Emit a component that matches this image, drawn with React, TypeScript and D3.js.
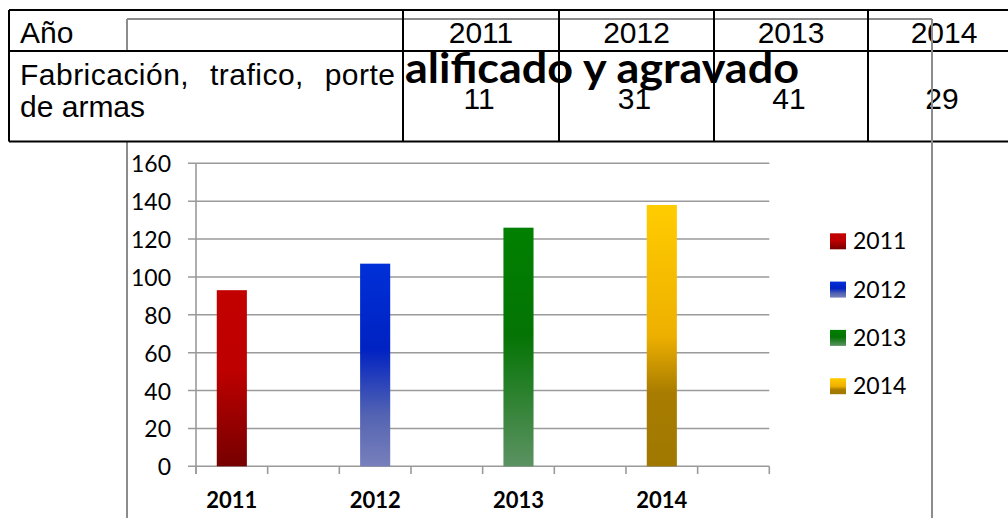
import React from "react";
import * as d3 from "d3";

// ---- data ----
const years: string[] = ["2011", "2012", "2013", "2014"];
const tableValues: number[] = [11, 31, 41, 29];
const barValues: number[] = [93, 107, 126, 138];
const yTickValues: number[] = [0, 20, 40, 60, 80, 100, 120, 140, 160];
const rowLabelLine1 = "Fabricación, trafico, porte";
const rowLabelLine2 = "de armas";
const headerLabel = "Año";
const overlayTitle = "alificado y agravado";

const gradients: { id: string; stops: [number, string][] }[] = [
  { id: "g2011", stops: [[0, "#C20000"], [0.45, "#BE0000"], [1, "#760000"]] },
  { id: "g2012", stops: [[0, "#0030D8"], [0.42, "#0022C2"], [0.75, "#5464B2"], [1, "#7880BC"]] },
  { id: "g2013", stops: [[0, "#008000"], [0.45, "#047404"], [1, "#5C9262"]] },
  { id: "g2014", stops: [[0, "#FFCC00"], [0.5, "#EEB000"], [0.72, "#A87C00"], [1, "#A07800"]] },
];

const W = 1008;
const H = 518;

export default function App() {
  const slots = d3.range(years.length * 2).map(String);
  const x = d3.scaleBand<string>().domain(slots).range([196, 769.3]).padding(0);
  const y = d3.scaleLinear().domain([0, 160]).range([466.3, 163.3]);
  const bw = x.bandwidth() * 0.42;
  const slotOf = (i: number) => String(i * 2);

  const tickXs = slots.map((s) => x(s)!).concat([x.range()[1]]);

  const colEdges = [403, 559, 714, 868, 1020];
  const frameColor = "#8c8c8c";
  const gridColor = "#9a9a9a";
  const tableFont = "'Liberation Sans', Arial, sans-serif";
  const chartFont = "Lato, 'Open Sans', sans-serif";

  return (
    <svg
      width={W}
      height={H}
      style={{ position: "absolute", left: 0, top: 0, background: "#fff" }}
    >
      <defs>
        {gradients.map((g) => (
          <linearGradient key={g.id} id={g.id} x1="0" y1="0" x2="0" y2="1">
            {g.stops.map(([o, c], k) => (
              <stop key={k} offset={o} stopColor={c} />
            ))}
          </linearGradient>
        ))}
      </defs>

      {/* chart frame (gray) */}
      <g stroke={frameColor} strokeWidth={2} fill="none">
        <line x1={127} y1={19} x2={932} y2={19} />
        <line x1={127} y1={19} x2={127} y2={51} />
        <line x1={127} y1={142} x2={127} y2={H} />
        <line x1={932} y1={19} x2={932} y2={H} />
      </g>

      {/* gridlines */}
      <g stroke={gridColor} strokeWidth={1.6}>
        {yTickValues.map((v) => (
          <line key={v} x1={188} x2={769.3} y1={y(v)} y2={y(v)} />
        ))}
        <line x1={196} x2={196} y1={y(160)} y2={474} />
        {tickXs.map((tx, k) => (
          <line key={k} x1={tx} x2={tx} y1={y(0)} y2={474} />
        ))}
      </g>

      {/* y labels */}
      <g fontFamily={chartFont} fontSize={23} fill="#000" textAnchor="end">
        {yTickValues.map((v) => (
          <text key={v} x={171} y={y(v)} dominantBaseline="central">
            {v}
          </text>
        ))}
      </g>

      {/* bars */}
      {barValues.map((v, i) => {
        const cx = x(slotOf(i))! + x.bandwidth() / 2;
        return (
          <rect
            key={i}
            x={cx - bw / 2}
            y={y(v)}
            width={bw}
            height={y(0) - y(v)}
            fill={`url(#${gradients[i].id})`}
          />
        );
      })}

      {/* x labels */}
      <g fontFamily={chartFont} fontSize={22} fontWeight="bold" fill="#000" textAnchor="middle">
        {years.map((yr, i) => (
          <text key={yr} x={x(slotOf(i))! + x.bandwidth() / 2} y={508}>
            {yr}
          </text>
        ))}
      </g>

      {/* legend */}
      <g fontFamily={chartFont} fontSize={23} fill="#000">
        {years.map((yr, i) => (
          <g key={yr} transform={`translate(830, ${233.3 + i * 48.3})`}>
            <rect x={0} y={0} width={16} height={16} fill={`url(#${gradients[i].id})`} />
            <text x={23} y={16}>
              {yr}
            </text>
          </g>
        ))}
      </g>

      {/* white cover for first column of row 2 */}
      <rect x={10} y={52} width={392} height={89} fill="#fff" />

      {/* table */}
      <g stroke="#000" strokeWidth={2}>
        <line x1={9} y1={10} x2={W} y2={10} />
        <line x1={9} y1={51} x2={W} y2={51} />
        <line x1={9} y1={141.5} x2={W} y2={141.5} />
        <line x1={9} y1={10} x2={9} y2={141.5} />
        {colEdges.slice(0, 4).map((cx) => (
          <line key={cx} x1={cx} y1={10} x2={cx} y2={141.5} />
        ))}
      </g>
      <g fontFamily={tableFont} fontSize={30} fill="#000">
        <text x={20} y={42.5}>{headerLabel}</text>
        {years.map((yr, i) => (
          <text key={yr} x={(colEdges[i] + colEdges[i + 1]) / 2} y={42.5} textAnchor="middle">
            {yr}
          </text>
        ))}
        <text x={20} y={85} textLength={375} lengthAdjust="spacing" style={{ wordSpacing: "12px" }}>
          {rowLabelLine1}
        </text>
        <text x={20} y={117}>{rowLabelLine2}</text>
        {tableValues.map((v, i) => (
          <text key={i} x={(colEdges[i] + colEdges[i + 1]) / 2 - 2} y={109} textAnchor="middle">
            {v}
          </text>
        ))}
      </g>
      {/* gray right frame shows through the table */}
      <line x1={932} y1={19} x2={932} y2={H} stroke={frameColor} strokeWidth={2} />

      {/* overlay bold text */}
      <text
        x={405}
        y={83}
        fontFamily={chartFont}
        fontWeight="bold"
        fontSize={42}
        fill="#000"
        textLength={394}
        lengthAdjust="spacingAndGlyphs"
      >
        {overlayTitle}
      </text>
    </svg>
  );
}
